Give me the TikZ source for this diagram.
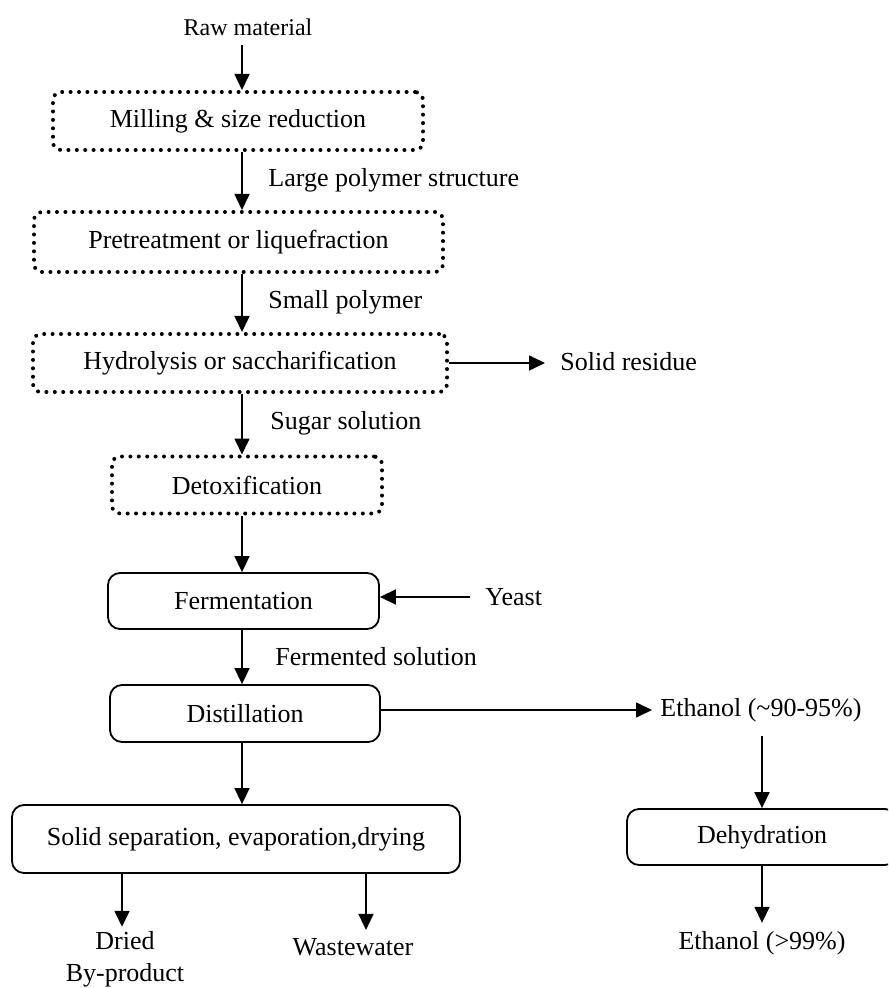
\documentclass[tikz,border=0pt]{standalone}
\usepackage{fontspec}
\setmainfont{Liberation Serif}
\usetikzlibrary{arrows.meta}

\begin{document}
\begin{tikzpicture}[x=0.5pt,y=-0.5pt,
  dotbox/.style={rectangle,draw=black,rounded corners=4pt,line width=2pt,line cap=round,dash pattern=on 0pt off 4.2pt,inner sep=0pt,font=\fontsize{13}{15}\selectfont},
  solidbox/.style={rectangle,draw=black,rounded corners=6pt,line width=0.9pt,inner sep=0pt,font=\fontsize{13}{15}\selectfont},
  lbl/.style={inner sep=0pt,font=\fontsize{13}{16}\selectfont},
  flow/.style={-{Triangle[length=8pt,width=7.5pt]},line width=0.8pt}]
	\useasboundingbox (0,0) rectangle (888,988);
	\clip (0,0) rectangle (888,988);
	% process steps
	\node[dotbox,minimum width=185pt,minimum height=29pt] (mill) at (238,121) {Milling \& size reduction};
	\node[dotbox,minimum width=204.5pt,minimum height=30pt] (pretreat) at (238.5,242) {Pretreatment or liquefraction};
	\node[dotbox,minimum width=207pt,minimum height=29pt] (hydro) at (240,363) {Hydrolysis or saccharification};
	\node[dotbox,minimum width=135pt,minimum height=28.5pt] (detox) at (247,485) {Detoxification};
	\node[solidbox,minimum width=135.5pt,minimum height=28pt] (ferm) at (243.5,601) {Fermentation};
	\node[solidbox,minimum width=135pt,minimum height=28.5pt] (distil) at (245,713.5) {Distillation};
	\node[solidbox,minimum width=224pt,minimum height=34pt] (solidsep) at (236,839) {Solid separation, evaporation,drying};
	\node[solidbox,minimum width=135pt,minimum height=28pt] (dehyd) at (762,837) {Dehydration};
	% streams
	\node[lbl,font=\fontsize{12}{14}\selectfont] (raw) at (248,27) {Raw material};
	\node[lbl,anchor=west] (large) at (268,180) {Large polymer structure};
	\node[lbl,anchor=west] (small) at (268,302) {Small polymer};
	\node[lbl,anchor=west] (sugar) at (270,423) {Sugar solution};
	\node[lbl,anchor=west] (residue) at (560,362) {Solid residue};
	\node[lbl,anchor=west] (yeast) at (485,597) {Yeast};
	\node[lbl,anchor=west] (fermsol) at (275,657) {Fermented solution};
	\node[lbl,anchor=west] (ethlow) at (660,710) {Ethanol (\textasciitilde 90-95\%)};
	\node[lbl] (ethhigh) at (762,943) {Ethanol (>99\%)};
	\node[lbl,align=center] (dried) at (125,959) {Dried\\By-product};
	\node[lbl] (waste) at (353,947) {Wastewater};
	\coordinate (spine) at (242,0);
	\coordinate (wcol) at (366,0);
	\coordinate (dcol) at (122,0);
	% connectors
	\draw[flow,shorten <=4.5pt] (raw.south -| spine) -- (mill.north -| spine);
	\draw[flow] (mill.south -| spine) -- (pretreat.north -| spine);
	\draw[flow] (pretreat.south -| spine) -- (hydro.north -| spine);
	\draw[flow] (hydro.south -| spine) -- (detox.north -| spine);
	\draw[flow] (detox.south -| spine) -- (ferm.north -| spine);
	\draw[flow] (ferm.south -| spine) -- (distil.north -| spine);
	\draw[flow] (distil.south -| spine) -- (solidsep.north -| spine);
	\draw[flow] (hydro.east) -- ([xshift=-7.5pt]residue.west |- hydro.east);
	\draw[flow] ([xshift=-7.5pt]yeast.west) -- (yeast.west -| ferm.east);
	\draw[flow] (distil.east |- ethlow.west) -- ([xshift=-4pt]ethlow.west);
	\draw[flow,shorten <=7pt] (ethlow.south -| dehyd) -- (dehyd.north);
	\draw[flow,shorten >=4pt] (dehyd.south) -- (ethhigh.north);
	\draw[flow,shorten >=2pt] (solidsep.south -| dcol) -- (dried.north -| dcol);
	\draw[flow,shorten >=4pt] (solidsep.south -| wcol) -- (waste.north -| wcol);
\end{tikzpicture}
\end{document}
